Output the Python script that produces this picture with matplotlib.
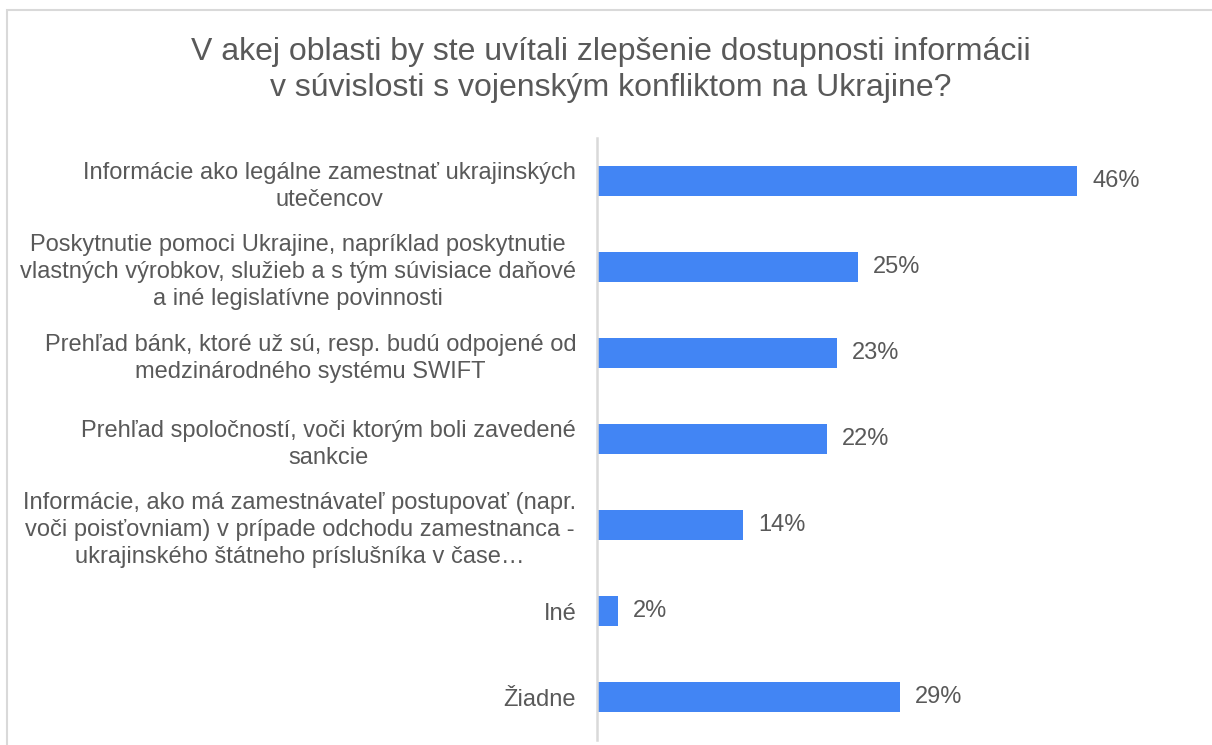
import matplotlib
matplotlib.use("Agg")
import matplotlib.pyplot as plt
from matplotlib.patches import Rectangle

plt.rcParams['font.family'] = ['Liberation Sans', 'DejaVu Sans']

title = "V akej oblasti by ste uvítali zlepšenie dostupnosti informácii\nv súvislosti s vojenským konfliktom na Ukrajine?"
categories = [
    "Informácie ako legálne zamestnať ukrajinských\nutečencov",
    "Poskytnutie pomoci Ukrajine, napríklad poskytnutie\nvlastných výrobkov, služieb a s tým súvisiace daňové\na iné legislatívne povinnosti",
    "Prehľad bánk, ktoré už sú, resp. budú odpojené od\nmedzinárodného systému SWIFT",
    "Prehľad spoločností, voči ktorým boli zavedené\nsankcie",
    "Informácie, ako má zamestnávateľ postupovať (napr.\nvoči poisťovniam) v prípade odchodu zamestnanca -\nukrajinského štátneho príslušníka v čase…",
    "Iné",
    "Žiadne",
]
values = [46, 25, 23, 22, 14, 2, 29]
value_labels = ["46%", "25%", "23%", "22%", "14%", "2%", "29%"]

text_color = "#595959"
bar_color = "#4285F4"

fig = plt.figure(figsize=(12.12, 7.45), dpi=100)
fig.patch.set_facecolor("white")

# outer border
fig.add_artist(Rectangle((7/1212, -0.1), 1.2, (745-10)/745 + 0.1,
                         transform=fig.transFigure, fill=False,
                         edgecolor="#d9d9d9", linewidth=1.5))

ax = fig.add_axes([597/1212, 1-740/745, (1171-597)/1212, (740-138)/745])
y = list(range(len(categories)))
ax.barh(y, values, height=0.35, color=bar_color)
ax.set_ylim(len(categories)-0.5, -0.5)
ax.set_xlim(0, 55)

for yi, v, lab in zip(y, values, value_labels):
    ax.annotate(lab, (v, yi), xytext=(11, 0), textcoords="offset points",
                ha="left", va="center", fontsize=17, color=text_color)

ax.set_yticks(y)
ax.set_yticklabels(categories, fontsize=17, color=text_color, linespacing=1.3)
for t in ax.get_yticklabels():
    t.set_multialignment("center")
ax.tick_params(axis="y", length=0, pad=15)
ax.set_xticks([])
for s in ["top", "right", "bottom"]:
    ax.spines[s].set_visible(False)
ax.spines["left"].set_color("#d9d9d9")
ax.spines["left"].set_linewidth(1.8)

fig.text(611/1212, 1-70/745, title, ha="center", va="center",
         fontsize=23, color=text_color, linespacing=1.25)

fig.savefig("out.png", dpi=100, facecolor="white")
